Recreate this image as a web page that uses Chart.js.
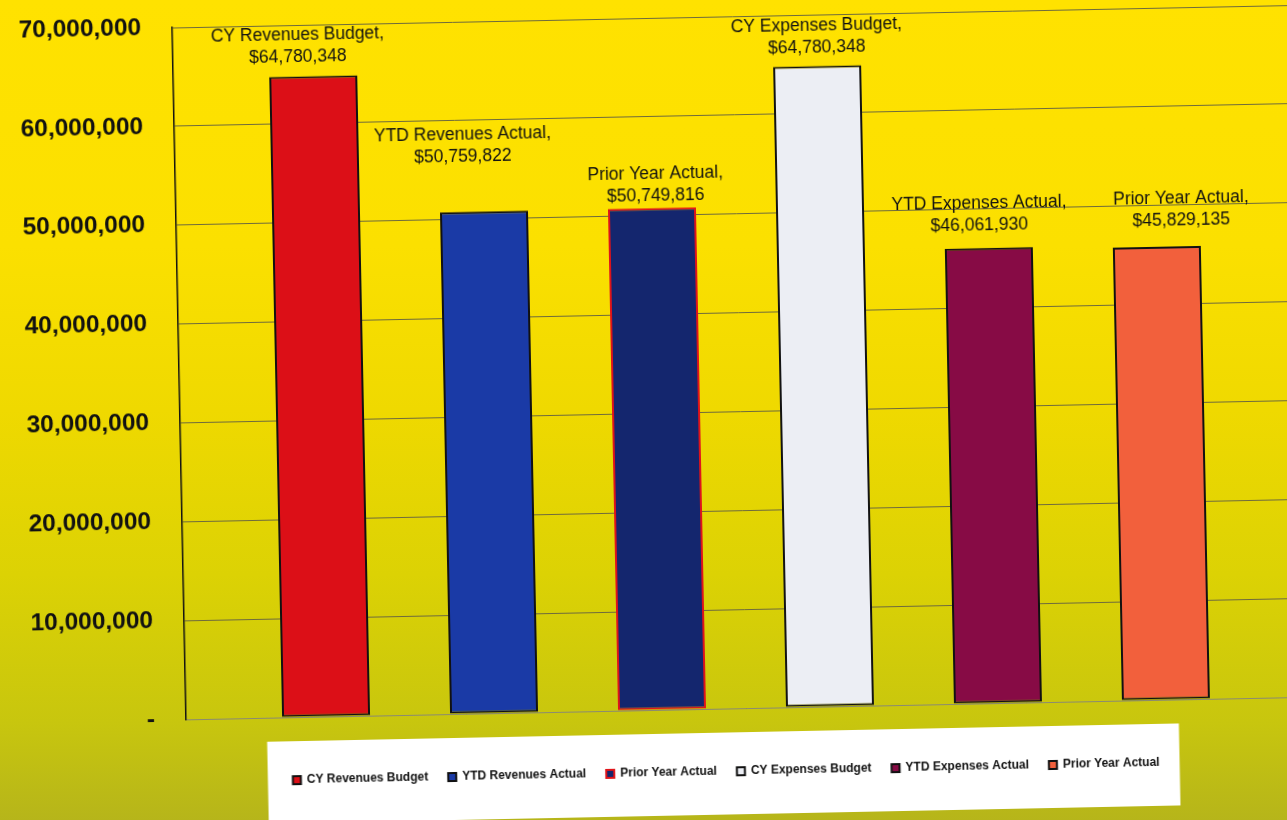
<!DOCTYPE html>
<html>
<head>
<meta charset="utf-8">
<title>Revenues and Expenses</title>
<script src="https://cdn.jsdelivr.net/npm/chart.js@4.4.1/dist/chart.umd.min.js"></script>
<style>
  html, body {
    margin: 0; padding: 0; width: 1287px; height: 820px; overflow: hidden;
    background: linear-gradient(to bottom, #ffe200 0%, #fbe000 30%, #efd900 50%, #dcd204 70%, #c8c60e 88%, #b6b51a 100%);
  }
  #wrap {
    position: absolute; left: 0; top: 0; width: 1300px; height: 820px;
    transform: rotate(-1.15deg); transform-origin: 650px 410px;
  }
</style>
</head>
<body>
<div id="wrap"><canvas id="budgetChart" width="1300" height="820"></canvas></div>
<script>
const seriesNames = ['CY Revenues Budget', 'YTD Revenues Actual', 'Prior Year Actual',
                     'CY Expenses Budget', 'YTD Expenses Actual', 'Prior Year Actual'];
const seriesValues = [64780348, 50759822, 50749816, 64780348, 46061930, 45829135];
const categories = [''];
const yMax = 70000000;
const yStep = 10000000;

const barFill = ['#dc0f17', '#1a3aa6', '#14266e', '#eceef4', '#870b45', '#f2603c'];
const barEdge = ['#111111', '#111111', '#e0141a', '#111111', '#111111', '#111111'];

// hand-placed data label nudges (dx, gap above bar top), like the original
const labelDx = [-15, -20, 4, 0, -9, 25];
const labelGap = [19, 55, 12, 18, 22, 26];

const FONT = '"Liberation Sans", Arial, sans-serif';

// two-line data labels: "Name," / "$value"
const barLabels = {
  id: 'barLabels',
  afterDatasetsDraw(chart) {
    const ctx = chart.ctx;
    ctx.save();
    ctx.font = '17.5px ' + FONT;
    ctx.fillStyle = '#111';
    ctx.textAlign = 'center';
    ctx.textBaseline = 'middle';
    chart.data.datasets.forEach((ds, i) => {
      const bar = chart.getDatasetMeta(i).data[0];
      const x = bar.x + labelDx[i];
      const y = bar.y - labelGap[i];
      ctx.fillText(ds.label + ',', x, y - 22);
      ctx.fillText('$' + ds.data[0].toLocaleString('en-US'), x, y);
    });
    ctx.restore();
  }
};

// white panel behind the legend, and nudge the legend a little left
const legendPanel = {
  id: 'legendPanel',
  afterLayout(chart) {
    chart.legend.left -= 21;
    chart.legend.right -= 21;
  },
  beforeDraw(chart) {
    const boxes = chart.legend.legendHitBoxes;
    if (!boxes || !boxes.length) return;
    const l = Math.min(...boxes.map(b => b.left)) - 25;
    const last = boxes[boxes.length - 1];
    const r = last.left + last.width + 20;
    const ctx = chart.ctx;
    ctx.save();
    ctx.fillStyle = '#ffffff';
    ctx.fillRect(l, 734, r - l, 82);
    ctx.restore();
  }
};

new Chart(document.getElementById('budgetChart').getContext('2d'), {
  type: 'bar',
  data: {
    labels: categories,
    datasets: seriesNames.map((name, i) => ({
      label: name,
      data: [seriesValues[i]],
      backgroundColor: barFill[i],
      borderColor: barEdge[i],
      borderWidth: 2,
      borderSkipped: false
    }))
  },
  options: {
    responsive: false,
    animation: false,
    categoryPercentage: 0.9,
    barPercentage: 0.524,
    layout: { padding: { top: 18, left: 0, right: 0, bottom: 31 } },
    plugins: {
      tooltip: { enabled: false },
      legend: {
        position: 'bottom',
        fullSize: false,
        labels: {
          boxWidth: 8,
          boxHeight: 8,
          padding: 20,
          color: '#111',
          font: { family: FONT, size: 12, weight: 'bold' }
        }
      }
    },
    scales: {
      x: {
        ticks: { display: false },
        grid: { display: false, drawTicks: false },
        border: { display: true, color: '#8a8a70', width: 1 },
        afterFit: s => { s.height = 37; }
      },
      y: {
        min: 0,
        max: yMax,
        ticks: {
          stepSize: yStep,
          padding: 31,
          color: '#111',
          font: { family: FONT, size: 24.5, weight: 'bold' },
          callback: v => v === 0 ? '-' : v.toLocaleString('en-US')
        },
        grid: { color: '#6e6a3c', lineWidth: 1, drawTicks: false },
        border: { display: true, color: '#111', width: 1.5 },
        afterFit: s => { s.width = 180; s.paddingTop = 0; s.paddingBottom = 0; }
      }
    }
  },
  plugins: [barLabels, legendPanel]
});
</script>
</body>
</html>
